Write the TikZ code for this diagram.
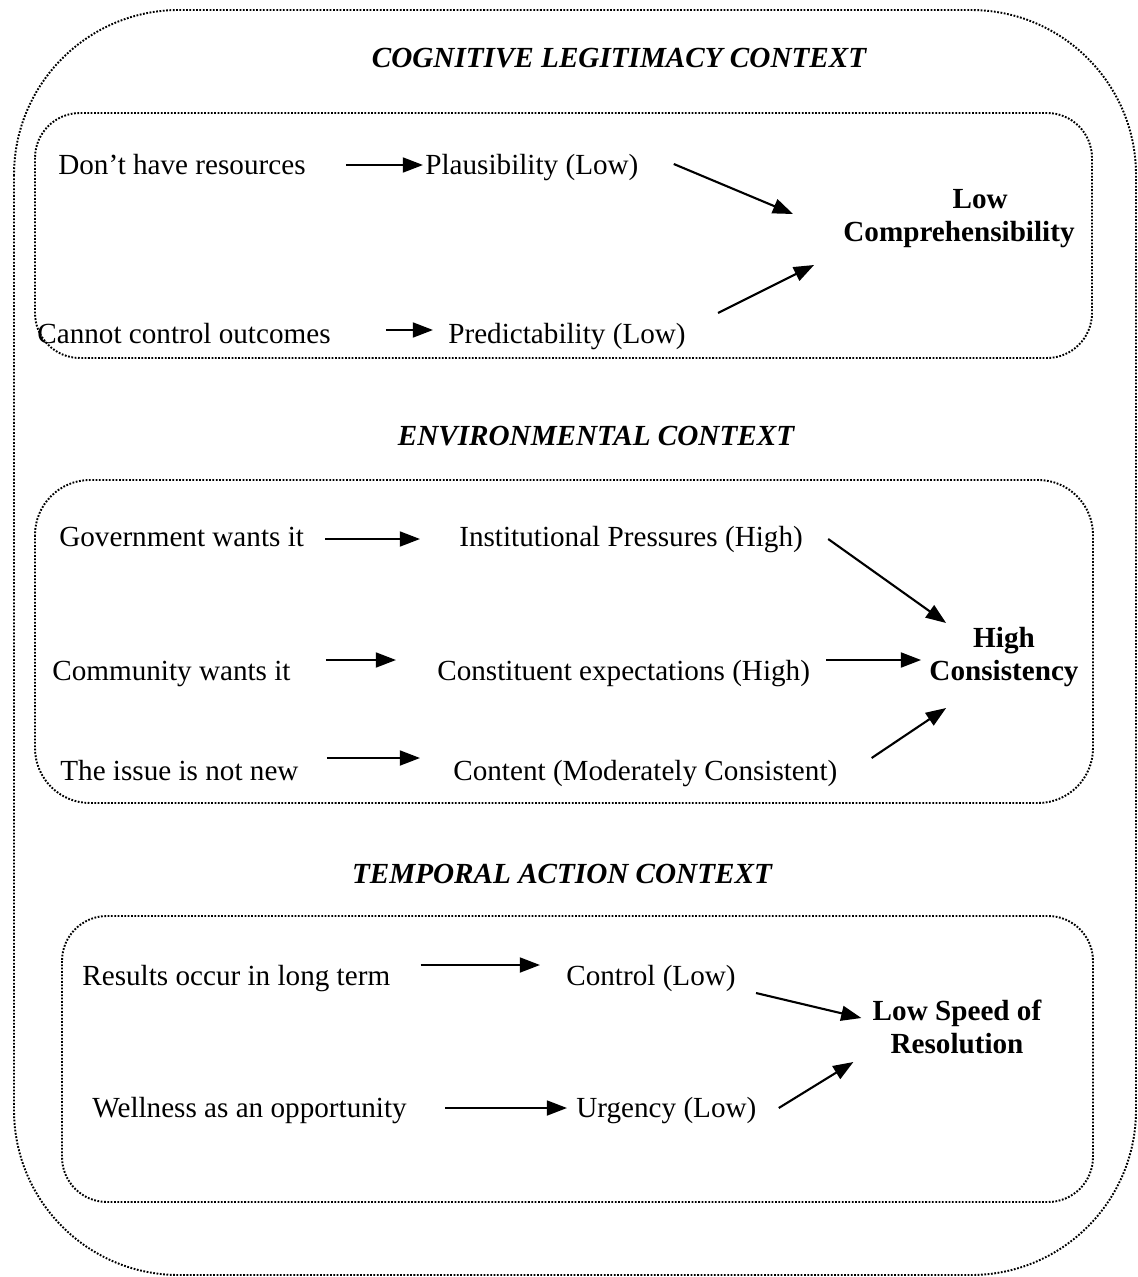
\documentclass[tikz,border=0pt]{standalone}
\usepackage{fontspec}
\setmainfont{Liberation Serif}
\usetikzlibrary{arrows.meta,calc}
\tikzset{
  dotbox/.style={line width=1.1pt, dash pattern=on 1pt off 0.9pt, line cap=butt},
  txt/.style={inner sep=0pt, anchor=base west, font=\fontsize{16.6pt}{18.7pt}\selectfont},
  res/.style={inner sep=0pt, anchor=center, align=center, font=\fontsize{16.6pt}{18.7pt}\selectfont\bfseries},
  ttl/.style={inner sep=0pt, anchor=base, font=\fontsize{16.6pt}{18.7pt}\selectfont\bfseries\itshape},
  arr/.style={-{Triangle[length=11.5pt,width=8.5pt]}, line width=1.2pt}
}
\begin{document}
\begin{tikzpicture}[x=0.02cm,y=-0.02cm]
\useasboundingbox (0,0) rectangle (1138,1277);
% containers
\draw[dotbox, rounded corners=3.3cm] (14,10) rectangle (1136,1275);
\draw[dotbox, rounded corners=0.9cm] (35,113) rectangle (1092,358);
\draw[dotbox, rounded corners=1.1cm] (35,480) rectangle (1093,803);
\draw[dotbox, rounded corners=0.9cm] (62,916) rectangle (1093,1202);
% titles
\node[ttl] (t1) at (619,68) {COGNITIVE LEGITIMACY CONTEXT};
\node[ttl] (t2) at (596,445) {ENVIRONMENTAL CONTEXT};
\node[ttl] (t3) at (562,883) {TEMPORAL ACTION CONTEXT};
% box 1
\node[txt] (dhr) at (58,174) {Don’t have resources};
\node[txt] (pla) at (425,174) {Plausibility (Low)};
\node[txt] (cco) at (37,343) {Cannot control outcomes};
\node[txt] (pre) at (448,343) {Predictability (Low)};
\node[res] (comp) at (959,219) {\hspace*{1.45em}Low\\Comprehensibility};
\draw[arr] ($(dhr.base east)+(40,-9)$) -- ($(pla.base west)+(-2,-9)$);
\draw[arr] ($(cco.base east)+(55,-13)$) -- ($(pre.base west)+(-15,-13)$);
\draw[arr] ($(pla.base east)+(35,-10)$) -- ($(comp.west)+(-50,-5)$);
\draw[arr] ($(pre.base east)+(32,-30)$) -- ($(comp.west)+(-29,46)$);
% box 2
\node[txt] (gov) at (59,546) {Government wants it};
\node[txt] (ins) at (459,546) {Institutional Pressures (High)};
\node[txt] (com) at (52,680) {Community wants it};
\node[txt] (con) at (437,680) {Constituent expectations (High)};
\node[txt] (iss) at (60,780) {The issue is not new};
\node[txt] (cnt) at (453,780) {Content (Moderately Consistent)};
\node[res] (hc) at (1004,657) {High\\Consistency};
\draw[arr] ($(gov.base east)+(21,-7)$) -- ($(ins.base west)+(-39,-7)$);
\draw[arr] ($(com.base east)+(35,-20)$) -- ($(con.base west)+(-41,-20)$);
\draw[arr] ($(iss.base east)+(28,-22)$) -- ($(cnt.base west)+(-33,-22)$);
\draw[arr] ($(ins.base east)+(25,-7)$) -- ($(hc.west)+(17,-34)$);
\draw[arr] ($(con.base east)+(16,-20)$) -- ($(hc.west)+(-8,3)$);
\draw[arr] ($(cnt.base east)+(34,-22)$) -- ($(hc.west)+(17,51)$);
% box 3
\node[txt] (rlt) at (82,985) {Results occur in long term};
\node[txt] (ctl) at (566,985) {Control (Low)};
\node[txt] (wel) at (92,1117) {Wellness as an opportunity};
\node[txt] (urg) at (576,1117) {Urgency (Low)};
\node[res] (lsr) at (957,1027) {Low Speed of\\Resolution};
\draw[arr] ($(rlt.base east)+(30,-20)$) -- ($(ctl.base west)+(-26,-20)$);
\draw[arr] ($(wel.base east)+(38,-9)$) -- ($(urg.base west)+(-9,-9)$);
\draw[arr] ($(ctl.base east)+(20,8)$) -- ($(lsr.west)+(-11,-9)$);
\draw[arr] ($(urg.base east)+(22,-9)$) -- ($(lsr.west)+(-19,35)$);
\end{tikzpicture}
\end{document}
